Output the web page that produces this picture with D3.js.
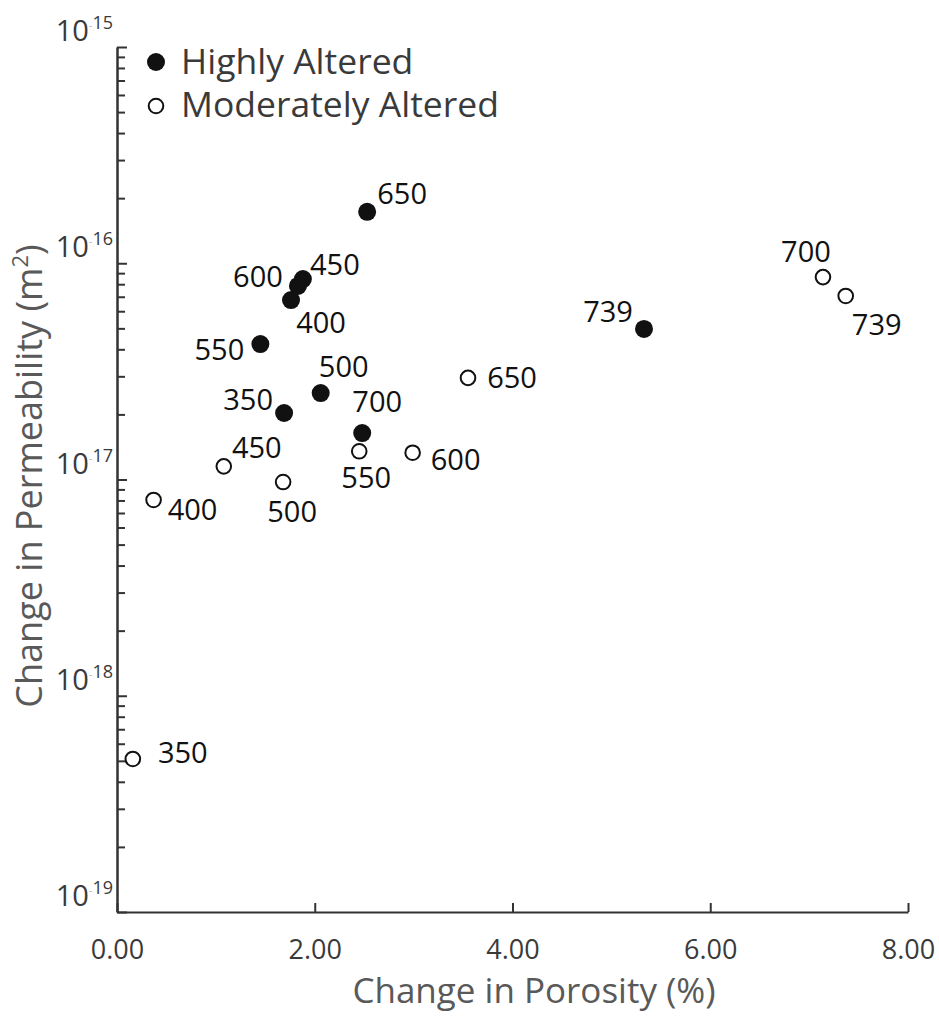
<!DOCTYPE html>
<html>
<head>
<meta charset="utf-8">
<script src="https://cdn.jsdelivr.net/npm/d3@7"></script>
<style>
  body { margin: 0; background: #fff; }
  text { font-family: "Open Sans", sans-serif; }
</style>
</head>
<body>
<div id="chart"></div>
<script>
//temperatures used as point labels
var temps = [350, 400, 450, 500, 550, 600, 650, 700, 739];

//highly altered samples
var porosityHigh = [1.69, 1.76, 1.88, 2.06, 1.45, 1.83, 2.53, 2.48, 5.33];
var permHigh = [2.03e-17, 6.76e-17, 8.45e-17, 2.51e-17, 4.23e-17, 7.85e-17, 1.73e-16, 1.64e-17, 4.97e-17];

//moderately altered samples
var porosityMod = [0.16, 0.37, 1.08, 1.68, 2.45, 2.99, 3.55, 7.14, 7.37];
var permMod = [5.1e-19, 8.04e-18, 1.15e-17, 9.73e-18, 1.35e-17, 1.33e-17, 2.95e-17, 8.63e-17, 7.06e-17];

//axis ticks
var xTicks = [0, 2, 4, 6, 8];
var yExponents = [-19, -18, -17, -16, -15];

//label nudges (pixels from point to label centre / baseline)
var labelNudgeHigh = [[-36, -3], [30, 33], [32, -4], [23, -16], [-41, 16], [-40, 1], [35, -8], [15, -21], [-36, -7]];
var labelNudgeMod = [[50, 4], [39, 20], [33, -8], [9, 40], [7, 37], [43, 17], [44, 10], [-17, -15], [31, 39]];

var svgWidth = 939;
var svgHeight = 1017;

var svg = d3.select("#chart").append("svg")
    .attr("width", svgWidth)
    .attr("height", svgHeight);

//scales
var xScale = d3.scaleLinear().domain([0, 8]).range([117, 908]);
var yScale = d3.scaleLog().domain([1e-19, 1e-15]).range([912, 47]);

var axisColor = "#333";

//minor y ticks
var minorTicks = [];
yExponents.slice(0, -1).forEach(function(e) {
    for (var m = 2; m <= 9; m++) minorTicks.push(m * Math.pow(10, e));
});

var yMinor = svg.append("g")
    .attr("transform", "translate(117,0)")
    .call(d3.axisLeft(yScale).tickValues(minorTicks).tickSizeInner(-8).tickSizeOuter(0).tickFormat(""));

var yMajor = svg.append("g")
    .attr("transform", "translate(117,0)")
    .call(d3.axisLeft(yScale).tickValues(yExponents.map(e => Math.pow(10, e))).tickSizeInner(-10).tickSizeOuter(0).tickFormat(""));

//x axis
var xAxis = svg.append("g")
    .attr("transform", "translate(0,912)")
    .call(d3.axisBottom(xScale).tickValues(xTicks).tickSizeInner(-9).tickSizeOuter(0).tickPadding(28)
        .tickFormat(d3.format(".2f")));

[yMinor, yMajor, xAxis].forEach(function(g) {
    g.selectAll("path, line").attr("stroke", axisColor).attr("stroke-width", 2);
});

xAxis.selectAll("text")
    .attr("font-size", "27px")
    .attr("fill", "#3a3a3a")
    .attr("font-family", "Open Sans, sans-serif");

//y tick labels with superscript exponents
var yLabels = svg.append("g").selectAll("text")
    .data(yExponents)
    .enter()
    .append("text")
    .attr("x", 113)
    .attr("y", d => yScale(Math.pow(10, d)) - 6)
    .attr("text-anchor", "end")
    .attr("fill", "#3a3a3a")
    .attr("font-size", "29px");

yLabels.append("tspan").text("10");
yLabels.append("tspan")
    .attr("font-size", "11px")
    .attr("fill", "#bbb")
    .attr("dy", -12)
    .text("-");
yLabels.append("tspan")
    .attr("font-size", "18px")
    .text(d => String(-d));

//axis titles
svg.append("text")
    .attr("x", 534)
    .attr("y", 1003)
    .attr("text-anchor", "middle")
    .attr("font-size", "35px")
    .attr("fill", "#595959")
    .text("Change in Porosity (%)");

var yTitle = svg.append("text")
    .attr("transform", "translate(42,476) rotate(-90)")
    .attr("text-anchor", "middle")
    .attr("font-size", "36px")
    .attr("fill", "#595959");
yTitle.append("tspan").text("Change in Permeability (m");
yTitle.append("tspan").attr("font-size", "22px").attr("dy", -14).text("2");
yTitle.append("tspan").attr("dy", 14).text(")");

//points
var highData = temps.map((t, i) => ({t: t, x: porosityHigh[i], y: permHigh[i], n: labelNudgeHigh[i]}));
var modData = temps.map((t, i) => ({t: t, x: porosityMod[i], y: permMod[i], n: labelNudgeMod[i]}));

svg.append("g").selectAll("circle")
    .data(modData)
    .enter()
    .append("circle")
    .attr("cx", d => xScale(d.x))
    .attr("cy", d => yScale(d.y))
    .attr("r", 7.3)
    .attr("fill", "#fff")
    .attr("stroke", "#111")
    .attr("stroke-width", 2);

svg.append("g").selectAll("circle")
    .data(highData)
    .enter()
    .append("circle")
    .attr("cx", d => xScale(d.x))
    .attr("cy", d => yScale(d.y))
    .attr("r", 9)
    .attr("fill", "#111");

//point labels
svg.append("g").selectAll("text")
    .data(highData.concat(modData))
    .enter()
    .append("text")
    .attr("x", d => xScale(d.x) + d.n[0])
    .attr("y", d => yScale(d.y) + d.n[1])
    .attr("text-anchor", "middle")
    .attr("font-size", "29px")
    .attr("fill", "#111")
    .text(d => d.t);

//legend
var legend = svg.append("g");
legend.append("circle").attr("cx", 156).attr("cy", 62).attr("r", 9).attr("fill", "#111");
legend.append("circle").attr("cx", 156).attr("cy", 106).attr("r", 7.3)
    .attr("fill", "#fff").attr("stroke", "#111").attr("stroke-width", 2);
legend.append("text").attr("x", 181).attr("y", 74).attr("font-size", "35.5px").attr("fill", "#3a3a3a").text("Highly Altered");
legend.append("text").attr("x", 181).attr("y", 117).attr("font-size", "35.5px").attr("fill", "#3a3a3a").text("Moderately Altered");
</script>
</body>
</html>
